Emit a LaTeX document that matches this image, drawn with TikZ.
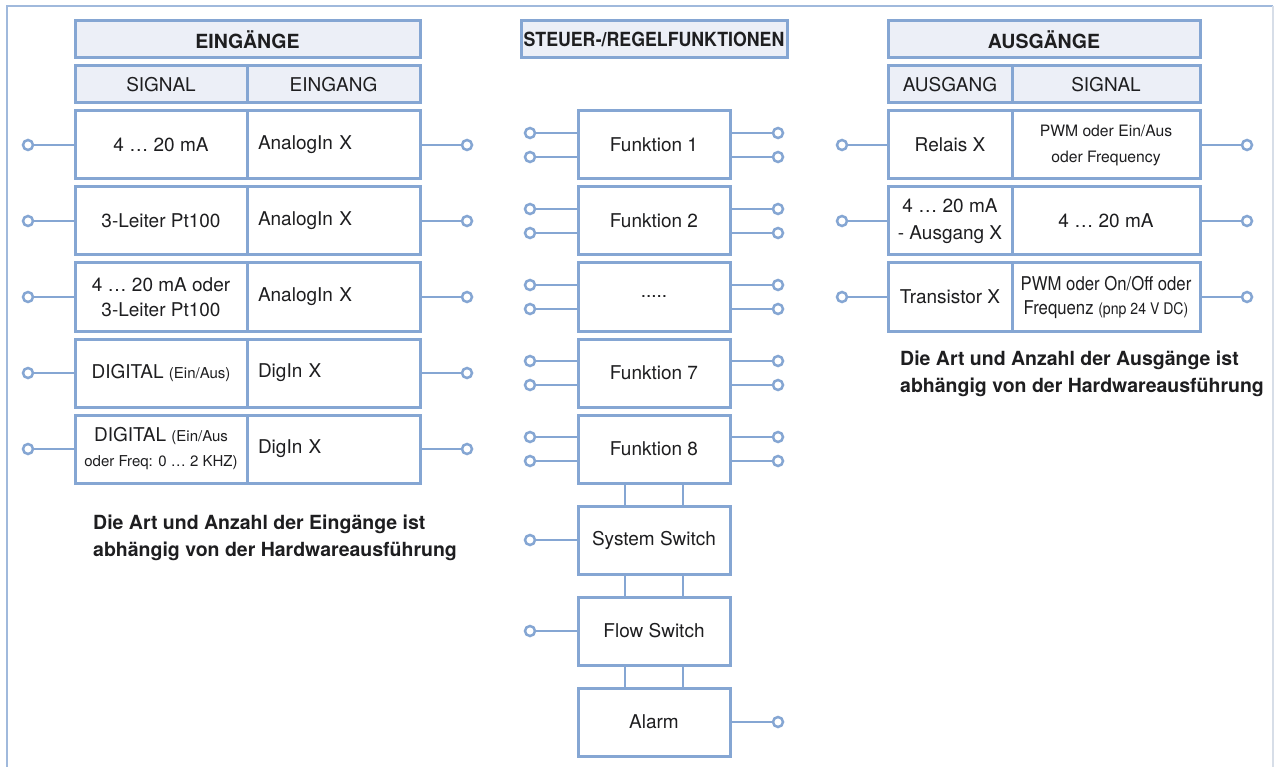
\documentclass[tikz,border=0pt]{standalone}
\usepackage{fontspec}
\setmainfont{TeX Gyre Heros}
\usetikzlibrary{positioning}
\definecolor{rahmen}{RGB}{133,166,211}
\definecolor{kopf}{RGB}{236,239,247}
\definecolor{schrift}{RGB}{30,30,32}
\definecolor{randlinie}{RGB}{160,185,220}
\definecolor{randgrau}{RGB}{215,222,232}
\newcommand{\klein}{\fontsize{15}{18}\selectfont}
\newcommand{\schmal}[1]{\scalebox{0.88}[1]{#1}}
\newcommand{\fuenfpunkte}{.....}

\begin{document}
\begin{tikzpicture}[x=1pt,y=-1pt,
  every node/.style={font=\fontsize{19}{25}\selectfont,text=schrift},
  kopfbox/.style={draw=rahmen,line width=3pt,fill=kopf,minimum height=37pt,inner sep=0pt,outer sep=0pt},
  titel/.style={font=\fontsize{19.5}{22}\selectfont\bfseries},
  zelle/.style={draw=rahmen,line width=3pt,fill=white,minimum height=68pt,inner sep=0pt,outer sep=0pt,align=center},
  eingang/.style={zelle,text width=151pt,inner xsep=11pt,align=left},
  fkt/.style={zelle,minimum width=152pt},
  pin/.style={circle,draw=rahmen,line width=2.5pt,fill=white,minimum size=10pt,inner sep=0pt},
  leitung/.style={draw=rahmen,line width=2.5pt},
  hinweis/.style={font=\fontsize{19.5}{27}\selectfont\bfseries,align=left,inner sep=0pt,anchor=north west}]
\useasboundingbox (0,0) rectangle (1274,767);

% Rahmen
\draw[randlinie,line width=1.5pt] (7,767) -- (7,6) -- (1273,6);
\draw[randgrau,line width=1.5pt] (1273,6) -- (1273,767);

% Eingaenge
\node[kopfbox,titel,minimum width=345pt] (eing) at (247.5,39.5) {EINGÄNGE};
\node[kopfbox,minimum width=172pt] (sig) at (161,84.5) {SIGNAL};
\node[kopfbox,minimum width=173pt] (ein) at (333.5,84.5) {EINGANG};
\foreach \n/\y/\sig/\ein in {
    1/145/{4 … 20 mA}/{AnalogIn X},
    2/221/{3-Leiter Pt100}/{AnalogIn X},
    3/297/{4 … 20 mA oder\\3-Leiter Pt100}/{AnalogIn X},
    4/373/{DIGITAL {\klein (Ein/Aus)}}/{DigIn X},
    5/449/{DIGITAL {\klein (Ein/Aus}\\{\klein oder Freq: 0 … 2 KHZ)}}/{DigIn X}}{
  \node[zelle,minimum width=172pt] (s\n) at (161,\y) {\sig};
  \node[eingang] (e\n) at (333.5,\y) {\ein};
  \node[pin] (li\n) at (28,\y) {};
  \node[pin] (re\n) at (467,\y) {};
  \draw[leitung] (li\n) -- (s\n);
  \draw[leitung] (e\n) -- (re\n);
}
\node[hinweis] (notein) at (93,515) {Die Art und Anzahl der Eingänge ist\\abhängig von der Hardwareausführung};

% Steuer-/Regelfunktionen
\node[kopfbox,titel,minimum width=266pt] (steuer) at (654,39.5) {\scalebox{0.91}[1]{STEUER-/REGELFUNKTIONEN}};
\foreach \n/\y/\txt in {1/145/Funktion 1, 2/221/Funktion 2, 3/297/\fuenfpunkte, 7/373/Funktion 7, 8/449/Funktion 8}{
  \node[fkt] (f\n) at (654,\y) {\txt};
  \node[pin] (fla\n) at (530,\y-12) {};
  \node[pin] (flb\n) at (530,\y+12) {};
  \node[pin] (fra\n) at (778,\y-12) {};
  \node[pin] (frb\n) at (778,\y+12) {};
  \draw[leitung] (fla\n) -- (f\n.west |- fla\n);
  \draw[leitung] (flb\n) -- (f\n.west |- flb\n);
  \draw[leitung] (f\n.east |- fra\n) -- (fra\n);
  \draw[leitung] (f\n.east |- frb\n) -- (frb\n);
}
\node[fkt,below=23pt of f8] (sys) {System Switch};
\node[fkt,below=23pt of sys] (flow) {Flow Switch};
\node[fkt,below=23pt of flow] (alarm) {Alarm};
\node[pin] (psys) at (sys.west -| fla8) {};
\node[pin] (pflow) at (flow.west -| fla8) {};
\node[pin] (palarm) at (alarm.east -| fra8) {};
\draw[leitung] (psys) -- (sys);
\draw[leitung] (pflow) -- (flow);
\draw[leitung] (alarm) -- (palarm);
\foreach \a/\b in {f8/sys, sys/flow, flow/alarm}{
  \draw[leitung] ([xshift=-29pt]\a.south) -- ([xshift=-29pt]\b.north);
  \draw[leitung] ([xshift=29pt]\a.south) -- ([xshift=29pt]\b.north);
}

% Ausgaenge
\node[kopfbox,titel,minimum width=312pt] (ausg) at (1044,39.5) {AUSGÄNGE};
\node[kopfbox,minimum width=124pt] (aus) at (950,84.5) {AUSGANG};
\node[kopfbox,minimum width=188pt] (sig2) at (1106,84.5) {SIGNAL};
\node[zelle,minimum width=124pt] (a1) at (950,145) {Relais X};
\node[zelle,minimum width=188pt,font=\fontsize{15.7}{26}\selectfont] (g1) at (1106,145) {PWM oder Ein/Aus\\oder Frequency};
\node[zelle,minimum width=124pt,font=\fontsize{19}{27}\selectfont] (a2) at (950,221) {4 … 20 mA\\- Ausgang X};
\node[zelle,minimum width=188pt] (g2) at (1106,221) {4 … 20 mA};
\node[zelle,minimum width=124pt] (a3) at (950,297) {Transistor X};
\node[zelle,minimum width=188pt,font=\fontsize{19}{24}\selectfont] (g3) at (1106,297) {\schmal{PWM oder On/Off oder}\\\schmal{Frequenz {\fontsize{16}{18}\selectfont (pnp 24 V DC)}}};
\foreach \n in {1,2,3}{
  \node[pin] (la\n) at (842,{145+76*(\n-1)}) {};
  \node[pin] (ra\n) at (1247,{145+76*(\n-1)}) {};
  \draw[leitung] (la\n) -- (a\n);
  \draw[leitung] (g\n) -- (ra\n);
}
\node[hinweis] (noteaus) at (900,351) {Die Art und Anzahl der Ausgänge ist\\abhängig von der Hardwareausführung};
\end{tikzpicture}
\end{document}
